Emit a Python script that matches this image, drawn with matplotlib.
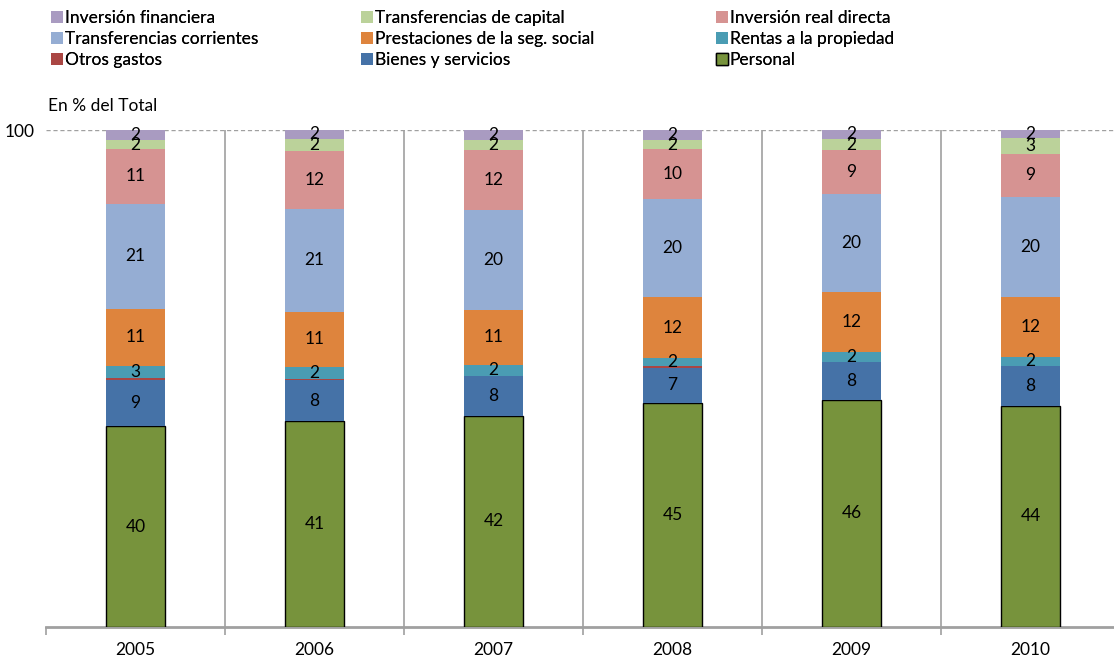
import matplotlib.pyplot as plt
import numpy as np

plt.rcParams['font.family'] = ['Lato', 'DejaVu Sans']

years = ['2005', '2006', '2007', '2008', '2009', '2010']

# series from bottom to top, % of total
personal = [40.4, 41.4, 42.5, 45.1, 45.7, 44.5]
bienes = [9.2, 8.2, 8.0, 7.1, 7.6, 8.0]
otros = [0.4, 0.3, 0.1, 0.3, 0.1, 0.1]
rentas = [2.6, 2.4, 2.2, 1.7, 2.0, 1.8]
prestaciones = [11.3, 11.1, 10.9, 12.1, 12.1, 11.9]
transf_corr = [21.3, 20.7, 20.3, 19.9, 19.6, 20.3]
inv_real = [10.9, 11.7, 11.9, 9.9, 8.8, 8.6]
transf_cap = [1.9, 2.4, 2.0, 1.9, 2.3, 3.1]
inv_fin = [2.0, 1.8, 2.1, 2.0, 1.8, 1.8]

series = [
    ('Personal', personal, '#77933C'),
    ('Bienes y servicios', bienes, '#4572A7'),
    ('Otros gastos', otros, '#AA4643'),
    ('Rentas a la propiedad', rentas, '#4A9CB3'),
    ('Prestaciones de la seg. social', prestaciones, '#DE843D'),
    ('Transferencias corrientes', transf_corr, '#95ADD3'),
    ('Inversión real directa', inv_real, '#D69392'),
    ('Transferencias de capital', transf_cap, '#BBD29A'),
    ('Inversión financiera', inv_fin, '#A99BC1'),
]

fs = 12.5
fig = plt.figure(figsize=(11.14, 6.59), dpi=100)
# right edge of the plot area runs past the picture, as in the original
ax = fig.add_axes([46 / 1114, 0.0486, 1074 / 1114, 0.7541])

x = np.arange(len(years))
bottom = np.zeros(len(years))
handles = {}
for name, vals, col in series:
    vals = np.array(vals)
    if name == 'Personal':
        b = ax.bar(x, vals, 0.335, bottom=bottom, color=col, edgecolor='black', linewidth=1, zorder=3)
    else:
        b = ax.bar(x, vals, 0.335, bottom=bottom, color=col, edgecolor='none', zorder=3)
    handles[name] = b
    for xi, v, b0 in zip(x, vals, bottom):
        if v >= 1:
            ax.text(xi, b0 + v / 2, f'{v:.0f}', ha='center', va='center', fontsize=fs, zorder=4)
    bottom += vals

ax.set_xlim(-0.5, 5.5)
ax.set_ylim(0, 100)
ax.set_yticks([100])
ax.tick_params(axis='y', length=0, labelsize=fs, pad=8)
ax.axhline(100, color='#A0A0A0', linestyle=(0, (3, 2)), linewidth=1, zorder=1)

ax.set_xticks(x)
ax.set_xticklabels(years, fontsize=fs)
ax.tick_params(axis='x', which='major', length=0, pad=11)
ax.set_xticks(np.arange(-0.5, 6, 1), minor=True)
ax.tick_params(axis='x', which='minor', length=6, color='#A0A0A0', width=1.2)
for b in np.arange(0.5, 5.5, 1):
    ax.axvline(b, color='#A0A0A0', linewidth=1.2, zorder=1)

for s in ['left', 'right', 'top']:
    ax.spines[s].set_visible(False)
ax.spines['bottom'].set_color('#A0A0A0')
ax.spines['bottom'].set_linewidth(2)

fig.text(48 / 1114, 1 - 106 / 659, 'En % del Total', fontsize=fs, va='center')

columns = [
    (44, ['Inversión financiera', 'Transferencias corrientes', 'Otros gastos']),
    (354, ['Transferencias de capital', 'Prestaciones de la seg. social', 'Bienes y servicios']),
    (709, ['Inversión real directa', 'Rentas a la propiedad', 'Personal']),
]
for xpos, names in columns:
    leg = fig.legend([handles[n] for n in names], names, loc='upper left',
                     bbox_to_anchor=(xpos / 1114, 0.995), frameon=False, fontsize=fs,
                     handlelength=0.7, handleheight=0.7, handletextpad=0.1,
                     labelspacing=0.28, borderaxespad=0)
    fig.add_artist(leg)

fig.savefig('out.png', dpi=100)
